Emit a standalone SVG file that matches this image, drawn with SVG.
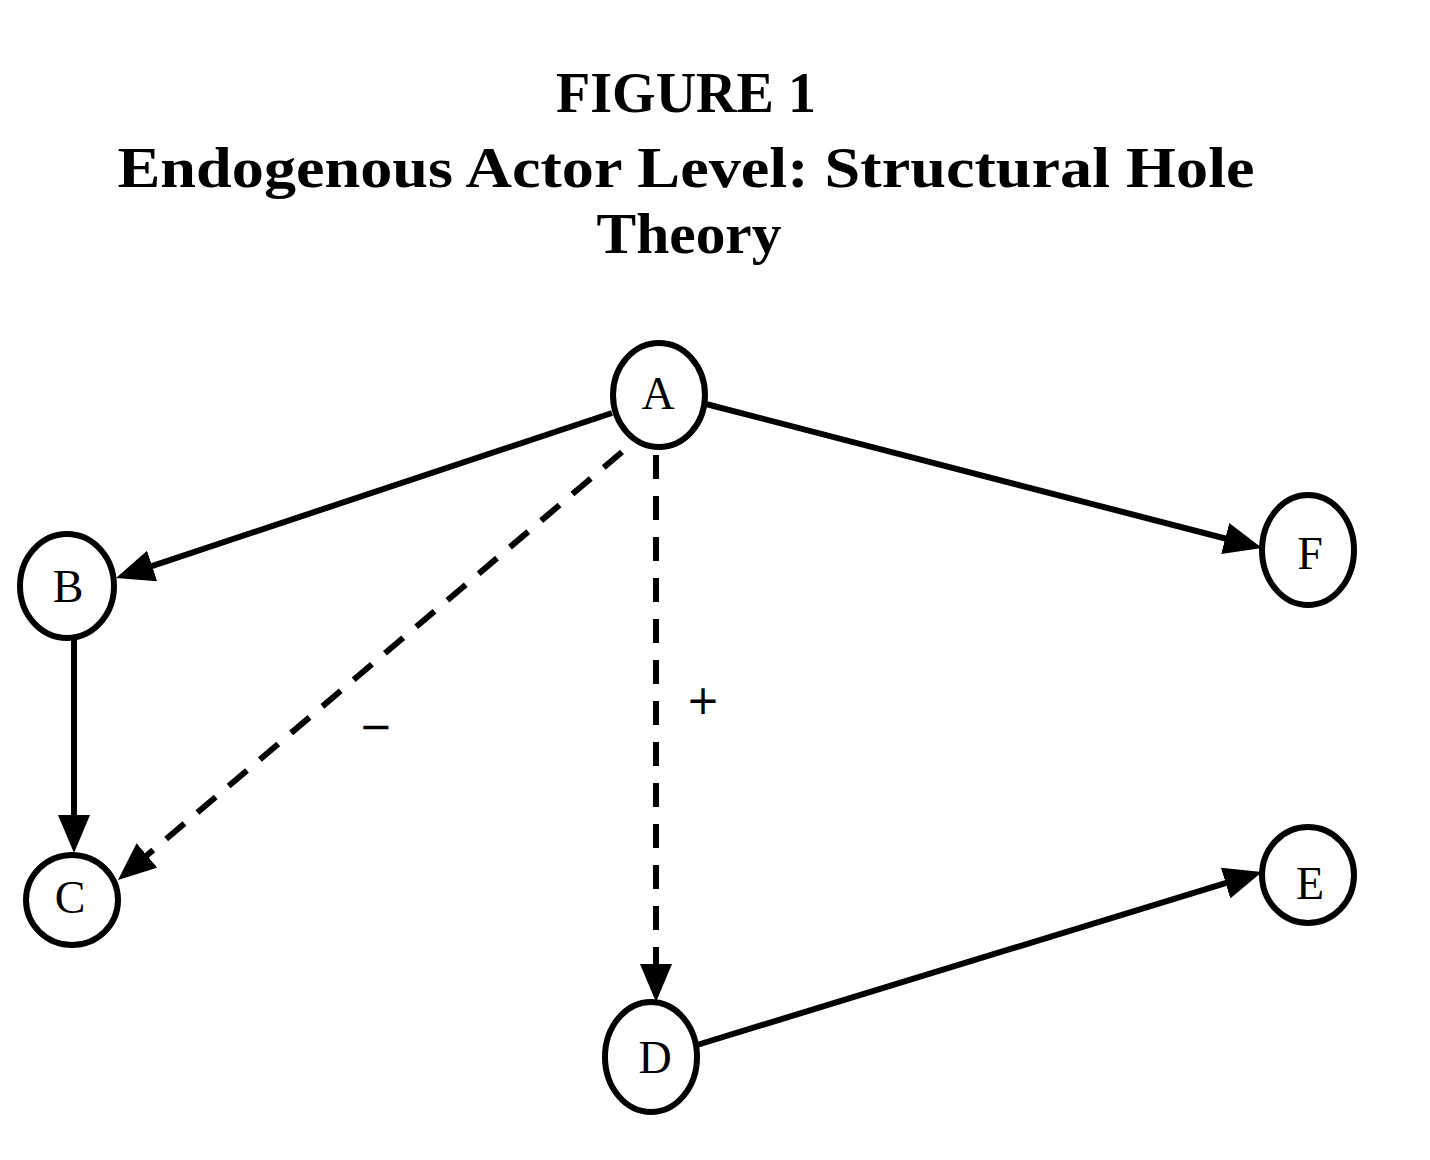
<svg xmlns="http://www.w3.org/2000/svg" width="1430" height="1160" viewBox="0 0 1430 1160">
<style>
.title{font-family:"Liberation Serif","DejaVu Serif",serif;font-weight:bold;font-size:56px;fill:#000;text-anchor:middle}
.node ellipse{fill:#fff;stroke:#000;stroke-width:6}
.node text{font-family:"Liberation Serif","DejaVu Serif",serif;font-size:46px;fill:#000;text-anchor:middle}
.edge{fill:none;stroke:#000;stroke-width:6}
.dash{stroke-dasharray:24 17}
.sign{font-family:"DejaVu Sans","Liberation Sans",sans-serif;font-size:40px;fill:#000;text-anchor:middle}
</style>
<defs>
<marker id="arr" viewBox="0 0 38 32" markerWidth="38" markerHeight="32" refX="28" refY="16" orient="auto" markerUnits="userSpaceOnUse">
<path d="M0,0 L38,16 L0,32 z" fill="#000"/>
</marker>
</defs>
<rect width="1430" height="1160" fill="#fff"/>
<g id="title">
<text class="title" x="686" y="112">FIGURE 1</text>
<text class="title" x="686" y="187" textLength="1137" lengthAdjust="spacingAndGlyphs">Endogenous Actor Level: Structural Hole</text>
<text class="title" x="689" y="253" textLength="185" lengthAdjust="spacingAndGlyphs">Theory</text>
</g>
<g id="connectors">
<path class="edge" d="M612,413 L125.5,574.8" marker-end="url(#arr)"/>
<path class="edge" d="M706,404 L1252.3,545.5" marker-end="url(#arr)"/>
<path class="edge dash" d="M622,452 L125.6,873.5" marker-end="url(#arr)"/>
<path class="edge dash" d="M656,455 L656,992" marker-end="url(#arr)"/>
<path class="edge" d="M74,640 L74,843" marker-end="url(#arr)"/>
<path class="edge" d="M697,1045 L1252.4,874.9" marker-end="url(#arr)"/>
<text class="sign" x="376" y="740">−</text>
<text class="sign" x="703" y="714">+</text>
</g>
<g id="node-A" class="node"><ellipse cx="659" cy="395" rx="46" ry="52"/><text x="658" y="409">A</text></g>
<g id="node-B" class="node"><ellipse cx="67" cy="586" rx="47" ry="52"/><text x="68" y="602">B</text></g>
<g id="node-C" class="node"><ellipse cx="72" cy="900" rx="46" ry="45"/><text x="70" y="913">C</text></g>
<g id="node-F" class="node"><ellipse cx="1308" cy="550" rx="46" ry="55"/><text x="1310" y="569">F</text></g>
<g id="node-D" class="node"><ellipse cx="651" cy="1057" rx="46" ry="55"/><text x="655" y="1073">D</text></g>
<g id="node-E" class="node"><ellipse cx="1308" cy="875" rx="46" ry="48"/><text x="1310" y="899">E</text></g>
</svg>
